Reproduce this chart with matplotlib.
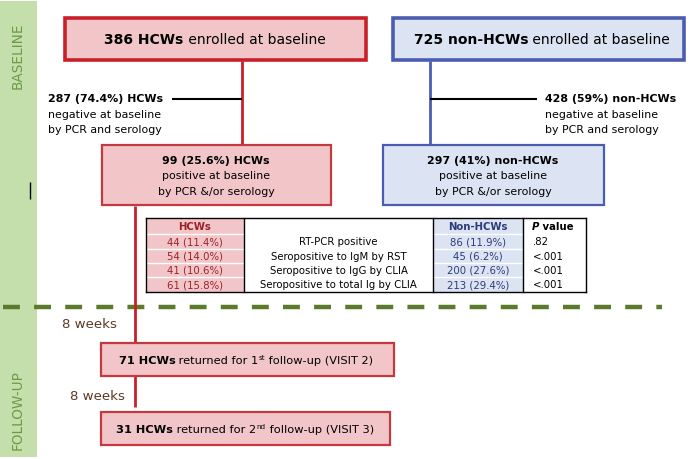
import matplotlib
matplotlib.use("Agg")
import matplotlib.pyplot as plt
from matplotlib.patches import Rectangle

plt.rcParams['font.family'] = ['DejaVu Sans']

# ---- data ----
hcw_total = "386 HCWs"
non_total = "725 non-HCWs"
hcw_neg = ["287 (74.4%) HCWs", "negative at baseline", "by PCR and serology"]
non_neg = ["428 (59%) non-HCWs", "negative at baseline", "by PCR and serology"]
hcw_pos = ["99 (25.6%) HCWs", "positive at baseline", "by PCR &/or serology"]
non_pos = ["297 (41%) non-HCWs", "positive at baseline", "by PCR &/or serology"]
table_header = ["HCWs", "", "Non-HCWs", "P value"]
tests = ["RT-PCR positive", "Seropositive to IgM by RST",
         "Seropositive to IgG by CLIA", "Seropositive to total Ig by CLIA"]
hcw_vals = ["44 (11.4%)", "54 (14.0%)", "41 (10.6%)", "61 (15.8%)"]
non_vals = ["86 (11.9%)", "45 (6.2%)", "200 (27.6%)", "213 (29.4%)"]
pvals = [".82", "<.001", "<.001", "<.001"]
visit2 = ("71 HCWs", " returned for 1", "st", " follow-up (VISIT 2)")
visit3 = ("31 HCWs", " returned for 2", "nd", " follow-up (VISIT 3)")
interval = "8 weeks"

# ---- colours ----
PINK = "#f2c6c8"
RED = "#c8202a"
RED2 = "#c23a3f"
BLUEF = "#dce3f3"
BLUE = "#4b5db0"
GREEN_BAR = "#c4dfab"
GREEN_TXT = "#6b9a45"
GREEN_DASH = "#5b7a2c"
BROWN = "#5a3a22"
DRED = "#9b2328"
NAVY = "#2c3c78"

S_TOP = 10.0
S_SMALL = 7.9
S_TAB = 7.3
S_WEEK = 9.6
S_VISIT = 8.2

fig = plt.figure(figsize=(6.97, 4.60), dpi=100)
ax = fig.add_axes([0, 0, 1, 1])
ax.set_xlim(0, 697)
ax.set_ylim(460, 0)
ax.axis("off")
fig.canvas.draw()
renderer = fig.canvas.get_renderer()


def measure(s, **kw):
    t = ax.text(0, 0, s, **kw)
    w = t.get_window_extent(renderer).width
    t.remove()
    return w


def rich(x, y, segs, ha="center", color="black"):
    widths = []
    for s, o in segs:
        kw = dict(fontsize=o.get("size", 8), fontweight=o.get("weight", "normal"),
                  fontstyle=o.get("style", "normal"))
        widths.append(measure(s, **kw))
    total = sum(widths)
    if ha == "center":
        x0 = x - total / 2
    elif ha == "left":
        x0 = x
    else:
        x0 = x - total
    for (s, o), w in zip(segs, widths):
        ax.text(x0, y + o.get("dy", 0), s, fontsize=o.get("size", 8),
                fontweight=o.get("weight", "normal"), fontstyle=o.get("style", "normal"),
                color=o.get("color", color), ha="left", va="center", zorder=4)
        x0 += w


def box(x0, y0, x1, y1, fc, ec, lw):
    ax.add_patch(Rectangle((x0, y0), x1 - x0, y1 - y0, facecolor=fc, edgecolor=ec,
                           linewidth=lw, zorder=2))


def line(xs, ys, c, lw):
    ax.plot(xs, ys, color=c, linewidth=lw, solid_capstyle="butt", zorder=1)


# side bar
ax.add_patch(Rectangle((0, 2), 37, 456, facecolor=GREEN_BAR, edgecolor="none", zorder=0))
ax.text(18, 56, "BASELINE", rotation=90, ha="center", va="center", fontsize=9.8,
        color=GREEN_TXT)
ax.text(18, 410, "FOLLOW-UP", rotation=90, ha="center", va="center", fontsize=9.8,
        color=GREEN_TXT)
line([30, 30], [183, 200], "black", 1.0)

# dashed separator
ax.plot([3, 662], [308, 308], color=GREEN_DASH, linewidth=3.2, dashes=(3.8, 3.2), zorder=1)

# connectors
line([242, 242], [62, 146], RED, 2.0)
line([172, 242], [100, 100], "black", 1.5)
line([430, 430], [62, 146], BLUE, 2.0)
line([430, 537], [100, 100], "black", 1.5)
line([135, 135], [207, 343], RED, 2.0)
line([135, 135], [377, 408], RED, 2.0)

# top boxes
box(65, 19, 366, 61, PINK, RED, 2.6)
rich(215, 40, [(hcw_total, dict(size=S_TOP, weight="bold")),
               (" enrolled at baseline", dict(size=S_TOP))])
box(393, 19, 684, 61, BLUEF, BLUE, 2.6)
rich(542, 40, [(non_total, dict(size=S_TOP, weight="bold")),
               (" enrolled at baseline", dict(size=S_TOP))])

# negative texts
for i, s in enumerate(hcw_neg):
    ax.text(48, 99 + 15.5 * i, s, fontsize=S_SMALL, fontweight="bold" if i == 0 else "normal",
            ha="left", va="center")
for i, s in enumerate(non_neg):
    ax.text(545, 99 + 15.5 * i, s, fontsize=S_SMALL, fontweight="bold" if i == 0 else "normal",
            ha="left", va="center")

# positive boxes
box(102, 146, 331, 206, PINK, RED2, 1.6)
for i, s in enumerate(hcw_pos):
    ax.text(216, 161 + 15.5 * i, s, fontsize=S_SMALL, fontweight="bold" if i == 0 else "normal",
            ha="center", va="center", zorder=4)
box(383, 146, 604, 206, BLUEF, BLUE, 1.6)
for i, s in enumerate(non_pos):
    ax.text(493, 161 + 15.5 * i, s, fontsize=S_SMALL, fontweight="bold" if i == 0 else "normal",
            ha="center", va="center", zorder=4)

# table
xe = [146, 244, 433, 523, 586]
ye = [219, 235, 249.5, 264, 278, 293]
fills = [PINK, "white", BLUEF, "white"]
for c in range(4):
    ax.add_patch(Rectangle((xe[c], ye[0]), xe[c + 1] - xe[c], ye[-1] - ye[0],
                           facecolor=fills[c], edgecolor="none", zorder=2))
for j, y in enumerate(ye):
    if j in (0, len(ye) - 1):
        ax.plot([xe[0], xe[-1]], [y, y], color="black", linewidth=1.0, zorder=3)
    else:
        ax.plot([xe[0], xe[-1]], [y, y], color="white", linewidth=1.0, zorder=3)
for x in xe:
    ax.plot([x, x], [ye[0], ye[-1]], color="black", linewidth=1.0, zorder=3)
hy = (ye[0] + ye[1]) / 2
ax.text((xe[0] + xe[1]) / 2, hy, table_header[0], fontsize=S_TAB, fontweight="bold",
        color=DRED, ha="center", va="center", zorder=4)
ax.text((xe[2] + xe[3]) / 2, hy, table_header[2], fontsize=S_TAB, fontweight="bold",
        color=NAVY, ha="center", va="center", zorder=4)
rich(532, hy, [("P", dict(size=S_TAB, weight="bold", style="italic")),
               (" value", dict(size=S_TAB, weight="bold"))], ha="left")
for i in range(4):
    y = (ye[i + 1] + ye[i + 2]) / 2
    ax.text((xe[0] + xe[1]) / 2, y, hcw_vals[i], fontsize=S_TAB, color=DRED,
            ha="center", va="center", zorder=4)
    ax.text((xe[1] + xe[2]) / 2, y, tests[i], fontsize=S_TAB, color="black",
            ha="center", va="center", zorder=4)
    ax.text((xe[2] + xe[3]) / 2, y, non_vals[i], fontsize=S_TAB, color=NAVY,
            ha="center", va="center", zorder=4)
    ax.text(533, y, pvals[i], fontsize=S_TAB, color="black",
            ha="left", va="center", zorder=4)

# follow-up
ax.text(62, 325, interval, fontsize=S_WEEK, color=BROWN, ha="left", va="center")
ax.text(70, 397, interval, fontsize=S_WEEK, color=BROWN, ha="left", va="center")

box(101, 344, 394, 377, PINK, RED2, 1.6)
rich(246, 361, [(visit2[0], dict(size=S_VISIT, weight="bold")), (visit2[1], dict(size=S_VISIT)),
                (visit2[2], dict(size=5.2, dy=-3)), (visit2[3], dict(size=S_VISIT))])
box(101, 413, 390, 446, PINK, RED2, 1.6)
rich(245, 430, [(visit3[0], dict(size=S_VISIT, weight="bold")), (visit3[1], dict(size=S_VISIT)),
                (visit3[2], dict(size=5.2, dy=-3)), (visit3[3], dict(size=S_VISIT))])

fig.savefig("out.png", dpi=100)
